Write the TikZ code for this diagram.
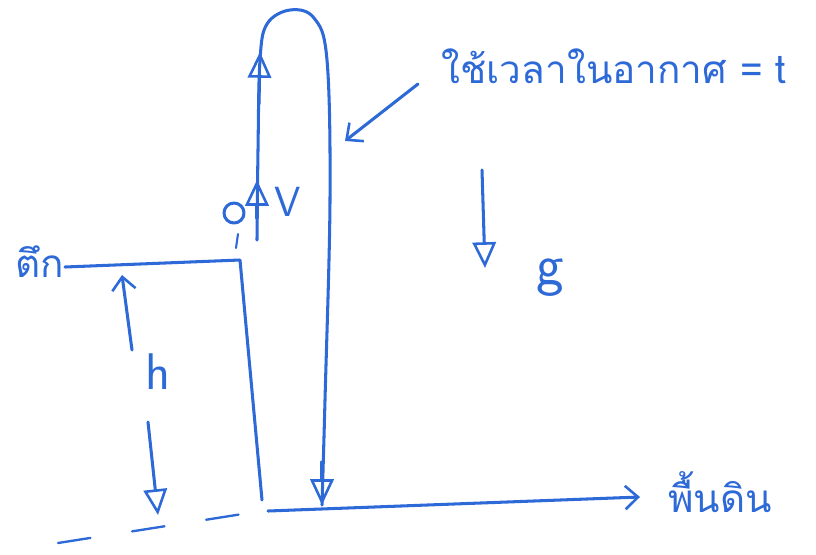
\documentclass[tikz,border=0pt]{standalone}
\usepackage{fontspec}
\newfontfamily\thaifont[Script=Thai]{Loma}
\usetikzlibrary{arrows.meta}
\definecolor{penblue}{RGB}{45,105,215}
\tikzset{
  pen/.style={penblue, line width=2.6pt, line cap=round, line join=round},
  opentip/.style={pen, -{Triangle[open, length=22pt, width=20pt, line width=2.2pt]}},
  barbtip/.style={pen, -{Straight Barb[length=11pt, width=20pt, line width=2.2pt]}},
  label/.style={penblue, font=\thaifont\fontsize{33}{38}\selectfont, inner sep=0pt}
}
\begin{document}
\begin{tikzpicture}[x=0.03cm, y=-0.03cm]
  \useasboundingbox (0,0) rectangle (816,554);

  % Building: roof and wall
  \coordinate (roofL) at (65,267);
  \coordinate (roofR) at (240,260);
  \coordinate (wallB) at (262,500);
  \draw[pen] (roofL) -- (roofR) -- (wallB);
  \node[label, anchor=east] (building) at (64,262) {ตึก};

  % Height of the building
  \coordinate (hTop) at (122,275);
  \coordinate (hUp) at (132,350);
  \coordinate (hDown) at (148,422);
  \coordinate (hBot) at (158,515);
  \draw[barbtip] (hUp) -- (hTop);
  \draw[opentip] (hDown) -- (hBot);
  \node[label, font=\sffamily\fontsize{44}{48}\selectfont] (h) at (158,372) {h};

  % Ball on the roof
  \draw[pen] (234,213) circle (10);
  \draw[pen, line width=1.8pt] (238,234) -- (236,248);

  % Path of the ball: up, over the top, down to the ground
  \coordinate (start) at (257,240);
  \coordinate (land) at (322,505);
  \draw[pen] plot[smooth, tension=0.6] coordinates {(start) (258,150) (260,60) (267,24) (290,10) (314,18) (327,60) (330,200) (325,400) (land)};
  \draw[opentip] (257,218) -- (257,180);
  \draw[opentip] (259,104) -- (260,52);
  \draw[opentip] (322,462) -- (land);
  \node[label, font=\sffamily\fontsize{36}{40}\selectfont] (v) at (288,202) {V};

  % Time of flight
  \node[label] (time) at (614,66) {ใช้เวลาในอากาศ = t};
  \coordinate (timeFrom) at (418,84);
  \coordinate (timeTo) at (345,141);
  \draw[barbtip] (timeFrom) -- (timeTo);

  % Gravity
  \coordinate (gTop) at (482,170);
  \coordinate (gBot) at (485,268);
  \draw[opentip] (gTop) -- (gBot);
  \node[label, font=\sffamily\fontsize{50}{54}\selectfont] (g) at (550,278) {g};

  % Ground
  \coordinate (groundL) at (268,511);
  \coordinate (groundR) at (640,497);
  \draw[barbtip] (groundL) -- (groundR);
  \node[label, anchor=west] (ground) at (668,492) {พื้นดิน};
  \draw[pen, line width=2pt, dash pattern=on 28pt off 36pt] (58,543) -- (268,510);
\end{tikzpicture}
\end{document}
